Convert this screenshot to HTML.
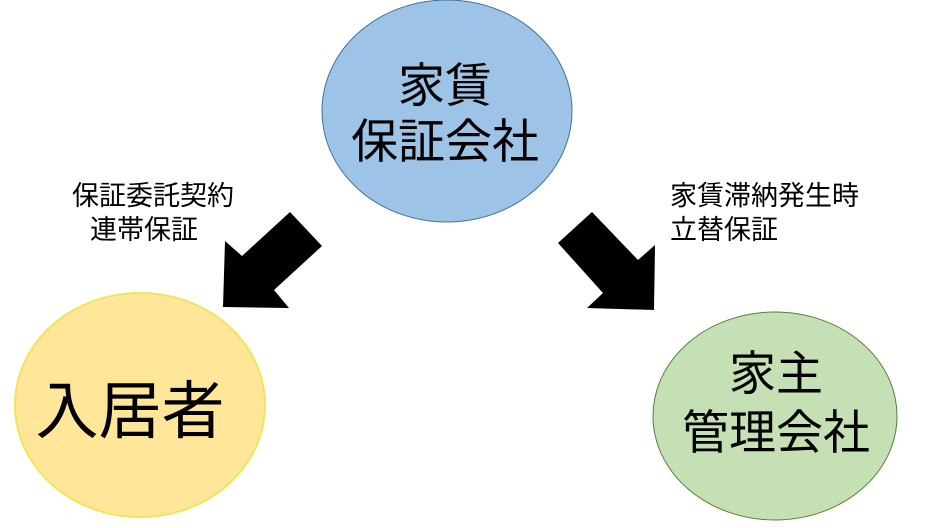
<!DOCTYPE html>
<html><head><meta charset="utf-8"><style>
body{margin:0;background:#fff;}
svg text{font-family:"Liberation Sans","Noto Sans CJK JP",sans-serif;}
</style></head><body>
<svg width="926" height="523" viewBox="0 0 926 523" xmlns="http://www.w3.org/2000/svg">
<ellipse cx="447" cy="111" rx="125" ry="111" fill="#9dc3e6" stroke="#41719c" stroke-width="1"/>
<ellipse cx="140" cy="405" rx="125" ry="112" fill="#ffe699" stroke="#f2e45a" stroke-width="2"/>
<ellipse cx="775" cy="416" rx="122" ry="104" fill="#c5e0b4" stroke="#548235" stroke-width="1"/>
<polygon points="290,212 322,246 274,290 289,308 223,307 225,241 242,256" fill="#000"/>
<polygon points="592,212 558,243 603,293 587,308 654,310 655,245 638,260" fill="#000"/>
<text x="445" y="102" font-size="47" text-anchor="middle">家賃</text>
<text x="445" y="158" font-size="47" text-anchor="middle">保証会社</text>
<text x="130" y="433" font-size="63" text-anchor="middle">入居者</text>
<text x="776" y="390" font-size="47" text-anchor="middle">家主</text>
<text x="776" y="449" font-size="47" text-anchor="middle">管理会社</text>
<text x="72" y="205" font-size="27">保証委託契約</text>
<text x="90" y="239" font-size="27">連帯保証</text>
<text x="670" y="205" font-size="27">家賃滞納発生時</text>
<text x="670" y="239" font-size="27">立替保証</text>
</svg>
</body></html>
